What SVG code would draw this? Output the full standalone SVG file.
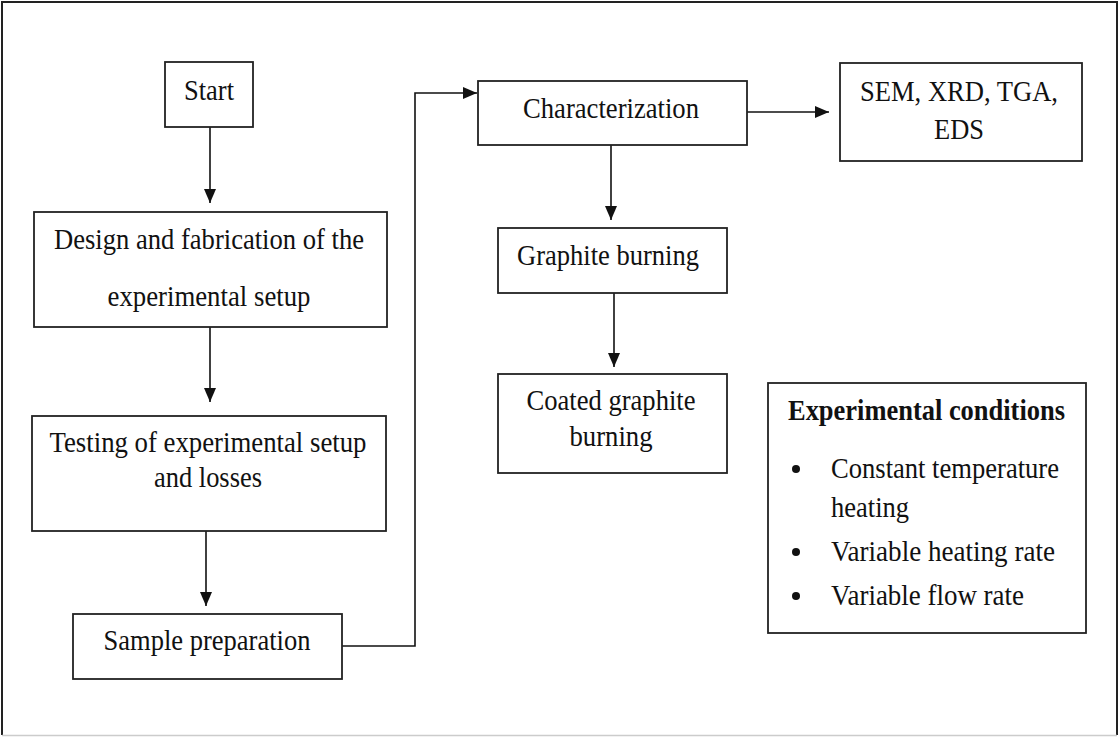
<svg xmlns="http://www.w3.org/2000/svg" width="1120" height="737" viewBox="0 0 1120 737">
<style>
.box{fill:#fff;stroke:#222;stroke-width:1.8}
.t{font-family:"Liberation Serif","Times New Roman",serif;font-size:30px;fill:#111;text-anchor:middle}
.l{text-anchor:start}
.b{font-weight:bold}
.c{fill:none;stroke:#111;stroke-width:1.6}
</style>
<defs>
<marker id="ah" markerUnits="userSpaceOnUse" markerWidth="14" markerHeight="12" refX="14" refY="6" orient="auto">
<path d="M0,0 L14,6 L0,12 Z" fill="#111"/>
</marker>
</defs>
<rect x="0" y="0" width="1120" height="737" fill="#fff"/>
<path d="M2,735 V2 H1117 V735" fill="none" stroke="#222" stroke-width="2"/>
<path d="M2,735.5 H1117" fill="none" stroke="#ccc" stroke-width="1.5"/>

<g id="connectors">
<path class="c" d="M210,127 V203" marker-end="url(#ah)"/>
<path class="c" d="M210,327 V402" marker-end="url(#ah)"/>
<path class="c" d="M206,531 V606" marker-end="url(#ah)"/>
<path class="c" d="M342,646 H415 V93 H477" marker-end="url(#ah)"/>
<path class="c" d="M747,112 H829" marker-end="url(#ah)"/>
<path class="c" d="M611,145 V220" marker-end="url(#ah)"/>
<path class="c" d="M614,293 V367" marker-end="url(#ah)"/>
</g>

<g id="start">
<rect class="box" x="165" y="62" width="88" height="65"/>
<text class="t" x="209" y="100" textLength="50" lengthAdjust="spacingAndGlyphs">Start</text>
</g>
<g id="design">
<rect class="box" x="34" y="212" width="353" height="115"/>
<text class="t" x="209" y="249" textLength="310" lengthAdjust="spacingAndGlyphs">Design and fabrication of the</text>
<text class="t" x="209" y="306" textLength="203" lengthAdjust="spacingAndGlyphs">experimental  setup</text>
</g>
<g id="testing">
<rect class="box" x="32" y="416" width="354" height="115"/>
<text class="t" x="208" y="452" textLength="317" lengthAdjust="spacingAndGlyphs">Testing of experimental setup</text>
<text class="t" x="208" y="487" textLength="108" lengthAdjust="spacingAndGlyphs">and losses</text>
</g>
<g id="sample">
<rect class="box" x="73" y="614" width="269" height="65"/>
<text class="t" x="207" y="650" textLength="207" lengthAdjust="spacingAndGlyphs">Sample preparation</text>
</g>
<g id="characterization">
<rect class="box" x="478" y="81" width="269" height="64"/>
<text class="t" x="611" y="118" textLength="176" lengthAdjust="spacingAndGlyphs">Characterization</text>
</g>
<g id="sem">
<rect class="box" x="840" y="63" width="242" height="98"/>
<text class="t" x="959" y="101" textLength="198" lengthAdjust="spacingAndGlyphs">SEM, XRD, TGA,</text>
<text class="t" x="959" y="139" textLength="50" lengthAdjust="spacingAndGlyphs">EDS</text>
</g>
<g id="graphite">
<rect class="box" x="498" y="228" width="229" height="65"/>
<text class="t" x="608" y="265" textLength="182" lengthAdjust="spacingAndGlyphs">Graphite burning</text>
</g>
<g id="coated">
<rect class="box" x="498" y="374" width="229" height="99"/>
<text class="t" x="611" y="410" textLength="169" lengthAdjust="spacingAndGlyphs">Coated graphite</text>
<text class="t" x="611" y="446" textLength="83" lengthAdjust="spacingAndGlyphs">burning</text>
</g>
<g id="conditions">
<rect class="box" x="768" y="383" width="318" height="250"/>
<text class="t l b" x="788" y="420" textLength="277" lengthAdjust="spacingAndGlyphs">Experimental conditions</text>
<circle cx="796" cy="469" r="4" fill="#111"/>
<circle cx="796" cy="552" r="4" fill="#111"/>
<circle cx="796" cy="596" r="4" fill="#111"/>
<text class="t l" x="831" y="478" textLength="228" lengthAdjust="spacingAndGlyphs">Constant temperature</text>
<text class="t l" x="831" y="517" textLength="78" lengthAdjust="spacingAndGlyphs">heating</text>
<text class="t l" x="831" y="561" textLength="224" lengthAdjust="spacingAndGlyphs">Variable heating rate</text>
<text class="t l" x="831" y="605" textLength="193" lengthAdjust="spacingAndGlyphs">Variable flow rate</text>
</g>
</svg>
